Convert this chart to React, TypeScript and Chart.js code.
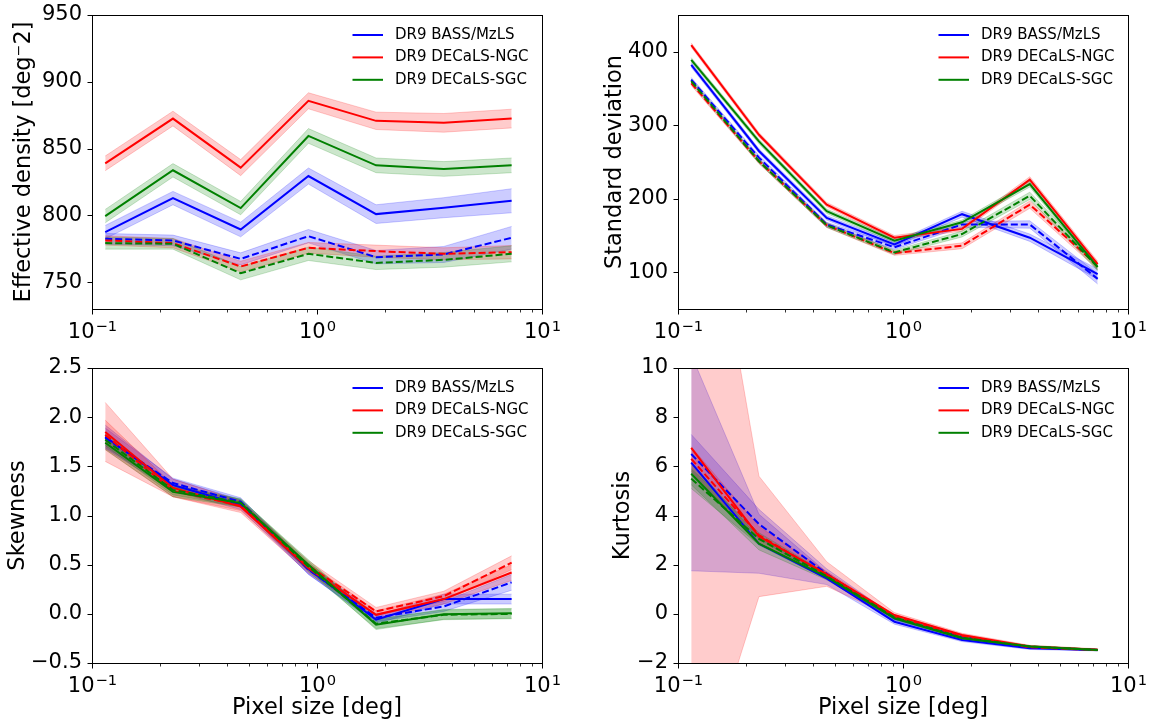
import Chart from "chart.js/auto"
import type { Plugin } from "chart.js/auto"
import { FC, useEffect, useRef } from "react"

Chart.defaults.font.family = "'DejaVu Sans', sans-serif"
Chart.defaults.color = "#000"

// pixel size of each map, in degrees
const pixelSize = [0.1145, 0.229, 0.458, 0.916, 1.83, 3.66, 7.33]
const xTicks = [0.1, 1, 10]
const xTickBase = ["10", "10", "10"]
const xTickExp = ["−1", "0", "1"]
const surveys = ["DR9 BASS/MzLS", "DR9 DECaLS-NGC", "DR9 DECaLS-SGC"]

// effective density
const densBass = [787.5, 813, 789.5, 829.5, 801, 805.8, 811]
const densBassErr = [5, 5, 5.5, 6, 7, 7.5, 9]
const densBassDash = [782.5, 781.3, 767.5, 784.5, 768.8, 770.8, 783.3]
const densBassDashErr = [4, 4, 4.5, 5, 5, 6, 8.5]
const densNgc = [839, 872.5, 835.8, 885.8, 870.8, 869.3, 872.5]
const densNgcErr = [5.5, 5.5, 6, 6, 6.5, 7, 7]
const densNgcDash = [781.3, 779.3, 761.8, 775.8, 773.3, 771.3, 772.5]
const densNgcDashErr = [3.5, 3.5, 4, 4, 4.5, 4.5, 5]
const densSgc = [799.5, 833.8, 805.5, 859.5, 837.5, 834.8, 837.5]
const densSgcErr = [5, 5, 5, 5.5, 5.5, 5.5, 5.5]
const densSgcDash = [779.3, 778.8, 756.8, 771.3, 764.5, 766.8, 771.3]
const densSgcDashErr = [4.5, 4, 5, 5, 5, 5.5, 6]
const densTicks = [750, 800, 850, 900, 950]
const densTickLabels = ["750", "800", "850", "900", "950"]

// standard deviation
const stdBass = [382, 265, 174, 138, 179, 147, 97.5]
const stdBassErr = [3, 3, 3, 3, 4, 5, 7]
const stdBassDash = [362, 256, 165, 134, 165, 165, 91]
const stdBassDashErr = [3, 3, 3, 3, 4, 5, 7]
const stdNgc = [409, 287, 192, 147, 159, 226, 111]
const stdNgcErr = [3, 3, 3, 3, 3, 4, 4]
const stdNgcDash = [357, 251, 164, 126, 136, 192, 109]
const stdNgcDashErr = [3, 3, 3, 3, 4, 5, 5]
const stdSgc = [389, 278, 183, 143, 168, 220, 107]
const stdSgcErr = [3, 3, 3, 3, 3, 4, 4]
const stdSgcDash = [360, 251, 164, 127, 152, 204, 107]
const stdSgcDashErr = [3, 3, 3, 3, 4, 5, 5]
const stdTicks = [100, 200, 300, 400]
const stdTickLabels = ["100", "200", "300", "400"]

// skewness
const skewBass = [1.8, 1.31, 1.11, 0.455, -0.06, 0.15, 0.15]
const skewBassErr = [0.12, 0.06, 0.05, 0.05, 0.04, 0.05, 0.05]
const skewBassDash = [1.79, 1.33, 1.14, 0.45, -0.04, 0.075, 0.32]
const skewBassDashErr = [0.1, 0.05, 0.04, 0.05, 0.04, 0.05, 0.08]
const skewNgc = [1.85, 1.28, 1.09, 0.465, -0.01, 0.15, 0.42]
const skewNgcErr = [0.3, 0.09, 0.06, 0.05, 0.04, 0.05, 0.08]
const skewNgcDash = [1.82, 1.25, 1.1, 0.49, 0.025, 0.18, 0.52]
const skewNgcDashErr = [0.15, 0.06, 0.05, 0.05, 0.04, 0.05, 0.07]
const skewSgc = [1.74, 1.24, 1.126, 0.5, -0.11, -0.005, 0.005]
const skewSgcErr = [0.07, 0.05, 0.04, 0.05, 0.05, 0.05, 0.05]
const skewSgcDash = [1.77, 1.26, 1.13, 0.48, -0.1, -0.01, 0]
const skewSgcDashErr = [0.06, 0.05, 0.04, 0.05, 0.05, 0.05, 0.05]
const skewTicks = [-0.5, 0, 0.5, 1, 1.5, 2, 2.5]
const skewTickLabels = ["−0.5", "0.0", "0.5", "1.0", "1.5", "2.0", "2.5"]

// kurtosis
const kurtBass = [6.15, 2.85, 1.44, -0.32, -1.06, -1.4, -1.47]
const kurtBassErr = [4.4, 1.2, 0.25, 0.1, 0.07, 0.05, 0.04]
const kurtBassDash = [6.5, 3.65, 1.63, -0.18, -0.93, -1.36, -1.47]
const kurtBassDashErr = [0.8, 0.6, 0.2, 0.08, 0.06, 0.04, 0.03]
const kurtNgc = [6.75, 3.15, 1.62, -0.05, -0.86, -1.33, -1.46]
const kurtNgcErr = [14.8, 2.45, 0.5, 0.1, 0.07, 0.05, 0.04]
const kurtNgcDash = [6.3, 3.2, 1.57, -0.12, -0.9, -1.36, -1.47]
const kurtNgcDashErr = [0.5, 0.35, 0.15, 0.08, 0.06, 0.04, 0.03]
const kurtSgc = [5.7, 2.85, 1.5, -0.18, -0.99, -1.33, -1.47]
const kurtSgcErr = [0.45, 0.25, 0.12, 0.07, 0.05, 0.04, 0.03]
const kurtSgcDash = [5.5, 3.05, 1.53, -0.14, -0.97, -1.33, -1.47]
const kurtSgcDashErr = [0.4, 0.25, 0.12, 0.07, 0.05, 0.04, 0.03]
const kurtTicks = [-2, 0, 2, 4, 6, 8, 10]
const kurtTickLabels = ["−2", "0", "2", "4", "6", "8", "10"]

const BLUE = "#0000ff"
const RED = "#ff0000"
const GREEN = "#008000"
const BLUE_FILL = "rgba(0,0,255,0.2)"
const RED_FILL = "rgba(255,0,0,0.2)"
const GREEN_FILL = "rgba(0,128,0,0.2)"
const legendColors = [BLUE, RED, GREEN]

const TICK_FONT = 21
const TITLE_FONT = 22.5

type Series = { mid: number[]; err: number[]; color: string; fill: string; dashed: boolean }

// green first so it ends up on top, like the last thing plotted
const mkSeries = (
    bass: number[], bassErr: number[], bassD: number[], bassDErr: number[],
    ngc: number[], ngcErr: number[], ngcD: number[], ngcDErr: number[],
    sgc: number[], sgcErr: number[], sgcD: number[], sgcDErr: number[]
): Series[] => [
    { mid: sgc, err: sgcErr, color: GREEN, fill: GREEN_FILL, dashed: false },
    { mid: sgcD, err: sgcDErr, color: GREEN, fill: GREEN_FILL, dashed: true },
    { mid: ngc, err: ngcErr, color: RED, fill: RED_FILL, dashed: false },
    { mid: ngcD, err: ngcDErr, color: RED, fill: RED_FILL, dashed: true },
    { mid: bass, err: bassErr, color: BLUE, fill: BLUE_FILL, dashed: false },
    { mid: bassD, err: bassDErr, color: BLUE, fill: BLUE_FILL, dashed: true }
]

const frame: Plugin = {
    id: "frame",
    afterDatasetsDraw(chart) {
        const { ctx, chartArea: a } = chart
        const x: any = chart.scales.x
        const y: any = chart.scales.y
        const L = Math.round(a.left) + 0.5
        const R = Math.round(a.right) + 0.5
        const T = Math.round(a.top) + 0.5
        const B = Math.round(a.bottom) + 0.5
        ctx.save()
        ctx.strokeStyle = "#000"
        ctx.lineWidth = 1
        ctx.strokeRect(L, T, R - L, B - T)
        ctx.beginPath()
        x.ticks.forEach((t: any) => {
            const px = Math.round(x.getPixelForValue(t.value)) + 0.5
            ctx.moveTo(px, B)
            ctx.lineTo(px, B + 5)
        })
        y.ticks.forEach((t: any) => {
            const py = Math.round(y.getPixelForValue(t.value)) + 0.5
            ctx.moveTo(L, py)
            ctx.lineTo(L - 5, py)
        })
        ctx.stroke()
        ctx.lineWidth = 0.8
        ctx.beginPath()
        for (const dec of [0.1, 1]) {
            for (let m = 2; m <= 9; m++) {
                const px = Math.round(x.getPixelForValue(dec * m)) + 0.5
                ctx.moveTo(px, B)
                ctx.lineTo(px, B + 3)
            }
        }
        ctx.stroke()

        // x tick labels as 10 with a raised exponent
        ctx.fillStyle = "#000"
        ctx.textAlign = "left"
        ctx.textBaseline = "alphabetic"
        x.ticks.forEach((t: any, i: number) => {
            const px = x.getPixelForValue(t.value)
            ctx.font = `${TICK_FONT}px 'DejaVu Sans'`
            const wb = ctx.measureText(xTickBase[i]).width
            ctx.font = `${TICK_FONT * 0.7}px 'DejaVu Sans'`
            const we = ctx.measureText(xTickExp[i]).width
            const x0 = px - (wb + we) / 2
            ctx.font = `${TICK_FONT}px 'DejaVu Sans'`
            ctx.fillText(xTickBase[i], x0, B + 28)
            ctx.font = `${TICK_FONT * 0.7}px 'DejaVu Sans'`
            ctx.fillText(xTickExp[i], x0 + wb + 1, B + 21)
        })
        ctx.restore()
    }
}

const legend: Plugin = {
    id: "insideLegend",
    afterDraw(chart) {
        const { ctx, chartArea: a } = chart
        ctx.save()
        ctx.font = "15px 'DejaVu Sans'"
        ctx.textBaseline = "middle"
        ctx.textAlign = "left"
        surveys.forEach((name, i) => {
            const yy = a.top + 20 + 22.4 * i
            ctx.strokeStyle = legendColors[i]
            ctx.lineWidth = 2
            ctx.beginPath()
            ctx.moveTo(a.right - 189.5, yy)
            ctx.lineTo(a.right - 159, yy)
            ctx.stroke()
            ctx.fillStyle = "#000"
            ctx.fillText(name, a.right - 147, yy)
        })
        ctx.restore()
    }
}

type PanelProps = {
    left: number
    top: number
    width: number
    height: number
    yWidth: number
    xHeight: number
    padRight: number
    padTop: number
    yMin: number
    yMax: number
    yTicks: number[]
    yTickLabels: string[]
    yTitle: string
    yTitlePad: number
    xTitle?: string
    series: Series[]
}

const Panel: FC<PanelProps> = (p) => {
    const canvas = useRef<HTMLCanvasElement>(null)

    useEffect(() => {
        if (!canvas.current) return

        const toPoints = (vals: number[]) => pixelSize.map((x, k) => ({ x, y: vals[k] }))

        const lines: any[] = p.series.map((s) => ({
            data: toPoints(s.mid),
            borderColor: s.color,
            borderWidth: 2,
            borderDash: s.dashed ? [7, 3] : [],
            pointRadius: 0,
            fill: false
        }))

        const bands: any[] = []
        p.series.forEach((s) => {
            const lo = lines.length + bands.length
            bands.push({
                data: toPoints(s.mid.map((v, k) => v - s.err[k])),
                borderColor: s.fill,
                borderWidth: 1,
                pointRadius: 0,
                fill: false
            })
            bands.push({
                data: toPoints(s.mid.map((v, k) => v + s.err[k])),
                borderColor: s.fill,
                borderWidth: 1,
                pointRadius: 0,
                backgroundColor: s.fill,
                fill: lo
            })
        })

        const chart = new Chart(canvas.current, {
            type: "line",
            data: { datasets: [...lines, ...bands] },
            options: {
                animation: false,
                responsive: false,
                events: [],
                layout: { padding: { left: 0, right: p.padRight, top: p.padTop, bottom: 0 } },
                plugins: { legend: { display: false }, tooltip: { enabled: false } },
                scales: {
                    x: {
                        type: "logarithmic",
                        min: 0.1,
                        max: 10,
                        grid: { display: false, drawTicks: false },
                        border: { display: false },
                        ticks: { display: false, autoSkip: false, maxRotation: 0, minRotation: 0 },
                        afterBuildTicks: (s: any) => {
                            s.ticks = xTicks.map((value) => ({ value }))
                        },
                        afterFit: (s: any) => {
                            s.height = p.xHeight
                            s.paddingLeft = 0
                            s.paddingRight = 0
                        },
                        title: {
                            display: !!p.xTitle,
                            text: p.xTitle || "",
                            color: "#000",
                            font: { size: TITLE_FONT },
                            padding: { top: 0, bottom: 4 }
                        }
                    },
                    y: {
                        type: "linear",
                        min: p.yMin,
                        max: p.yMax,
                        grid: { display: false, drawTicks: false },
                        border: { display: false },
                        ticks: {
                            padding: 10,
                            color: "#000",
                            font: { size: TICK_FONT },
                            callback: (_v: any, i: number) => p.yTickLabels[i]
                        },
                        afterBuildTicks: (s: any) => {
                            s.ticks = p.yTicks.map((value) => ({ value }))
                        },
                        afterFit: (s: any) => {
                            s.width = p.yWidth
                            s.paddingTop = 0
                            s.paddingBottom = 0
                        },
                        title: {
                            display: true,
                            text: p.yTitle,
                            color: "#000",
                            font: { size: TITLE_FONT },
                            padding: { top: p.yTitlePad, bottom: 0 }
                        }
                    }
                }
            },
            plugins: [frame, legend]
        })

        return () => chart.destroy()
    }, [])

    return (
        <canvas
            ref={canvas}
            width={p.width}
            height={p.height}
            style={{ position: "absolute", left: p.left, top: p.top, width: p.width, height: p.height }}
        />
    )
}

const App: FC = () => (
    <div style={{ position: "absolute", left: 0, top: 0, width: 1154, height: 726, background: "#fff" }}>
        <Panel
            left={0} top={0} width={560} height={345}
            yWidth={92} xHeight={36} padRight={18} padTop={15}
            yMin={730} yMax={950} yTicks={densTicks} yTickLabels={densTickLabels}
            yTitle="Effective density [deg⁻2]" yTitlePad={10.5}
            series={mkSeries(
                densBass, densBassErr, densBassDash, densBassDashErr,
                densNgc, densNgcErr, densNgcDash, densNgcDashErr,
                densSgc, densSgcErr, densSgcDash, densSgcDashErr
            )}
        />
        <Panel
            left={560} top={0} width={594} height={345}
            yWidth={118} xHeight={36} padRight={26} padTop={15}
            yMin={50} yMax={450} yTicks={stdTicks} yTickLabels={stdTickLabels}
            yTitle="Standard deviation" yTitlePad={41.5}
            series={mkSeries(
                stdBass, stdBassErr, stdBassDash, stdBassDashErr,
                stdNgc, stdNgcErr, stdNgcDash, stdNgcDashErr,
                stdSgc, stdSgcErr, stdSgcDash, stdSgcDashErr
            )}
        />
        <Panel
            left={0} top={345} width={560} height={381}
            yWidth={92} xHeight={63} padRight={18} padTop={23}
            yMin={-0.5} yMax={2.5} yTicks={skewTicks} yTickLabels={skewTickLabels}
            yTitle="Skewness" yTitlePad={4.5} xTitle="Pixel size [deg]"
            series={mkSeries(
                skewBass, skewBassErr, skewBassDash, skewBassDashErr,
                skewNgc, skewNgcErr, skewNgcDash, skewNgcDashErr,
                skewSgc, skewSgcErr, skewSgcDash, skewSgcDashErr
            )}
        />
        <Panel
            left={560} top={345} width={594} height={381}
            yWidth={118} xHeight={63} padRight={26} padTop={23}
            yMin={-2} yMax={10} yTicks={kurtTicks} yTickLabels={kurtTickLabels}
            yTitle="Kurtosis" yTitlePad={49.5} xTitle="Pixel size [deg]"
            series={mkSeries(
                kurtBass, kurtBassErr, kurtBassDash, kurtBassDashErr,
                kurtNgc, kurtNgcErr, kurtNgcDash, kurtNgcDashErr,
                kurtSgc, kurtSgcErr, kurtSgcDash, kurtSgcDashErr
            )}
        />
    </div>
)

export default App
